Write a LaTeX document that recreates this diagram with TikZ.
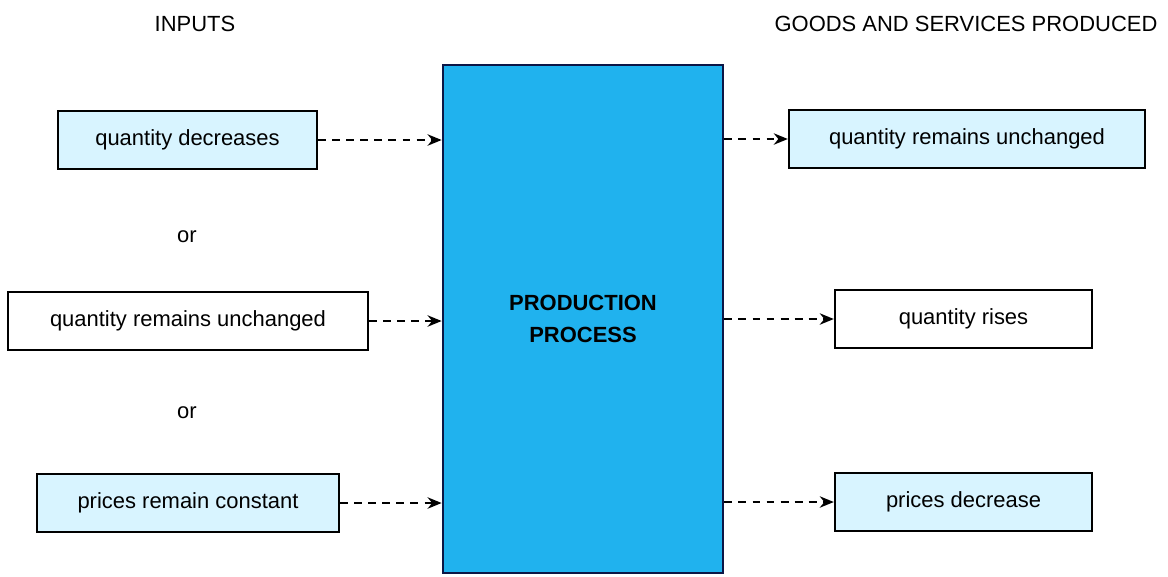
\documentclass[tikz,border=0pt]{standalone}
\usepackage{fontspec}
\setmainfont{Liberation Sans}
\usetikzlibrary{positioning, arrows.meta}

\definecolor{paleblue}{RGB}{216,244,255}
\definecolor{procblue}{RGB}{32,178,238}
\definecolor{edgeblue}{RGB}{12,22,70}

\begin{document}
\begin{tikzpicture}[
    x=0.02cm, y=-0.02cm,
    every node/.style={font=\fontsize{12.5}{15}\selectfont},
    box/.style={rectangle, draw=black, line width=1.4pt, minimum height=1.16cm, inner sep=0pt, align=center, fill=#1},
    box/.default=paleblue,
    plain/.style={box=white},
    proc/.style={rectangle, draw=edgeblue, line width=1.6pt, fill=procblue, minimum width=5.6cm, minimum height=10.16cm, align=center, font=\fontsize{12.5}{18}\selectfont\bfseries},
    arr/.style={-{Stealth[length=8pt, width=6.5pt]}, dash pattern=on 4.5pt off 3.5pt, line width=1pt},
]
    \useasboundingbox (0,0) rectangle (1168,576);

    % headings
    \node (inputs) at (195,24) {INPUTS};
    \node (goods) at (966,24) {GOODS AND SERVICES PRODUCED};

    % inputs on the left
    \node[box, minimum width=5.18cm] (qdec) at (187.5,140) {quantity decreases};
    \node (or1) at (187,237) {or};
    \node[plain, minimum width=7.2cm] (qsame) at (188,321) {quantity remains unchanged};
    \node (or2) at (187,413) {or};
    \node[box, minimum width=6.04cm] (pconst) at (188,503) {prices remain constant};

    \node[proc] (proc) at (583,319) {PRODUCTION\\PROCESS};

    % outputs on the right
    \node[box, minimum width=7.12cm] (qout) at (967,139) {quantity remains unchanged};
    \node[plain, minimum width=5.14cm] (qrise) at (963.5,319) {quantity rises};
    \node[box, minimum width=5.14cm] (pdec) at (963.5,502) {prices decrease};

    \draw[arr] (qdec.east) -- (qdec.east -| proc.west);
    \draw[arr] (qsame.east) -- (qsame.east -| proc.west);
    \draw[arr] (pconst.east) -- (pconst.east -| proc.west);
    \draw[arr] (proc.east |- qout.west) -- (qout.west);
    \draw[arr] (proc.east |- qrise.west) -- (qrise.west);
    \draw[arr] (proc.east |- pdec.west) -- (pdec.west);
\end{tikzpicture}
\end{document}
